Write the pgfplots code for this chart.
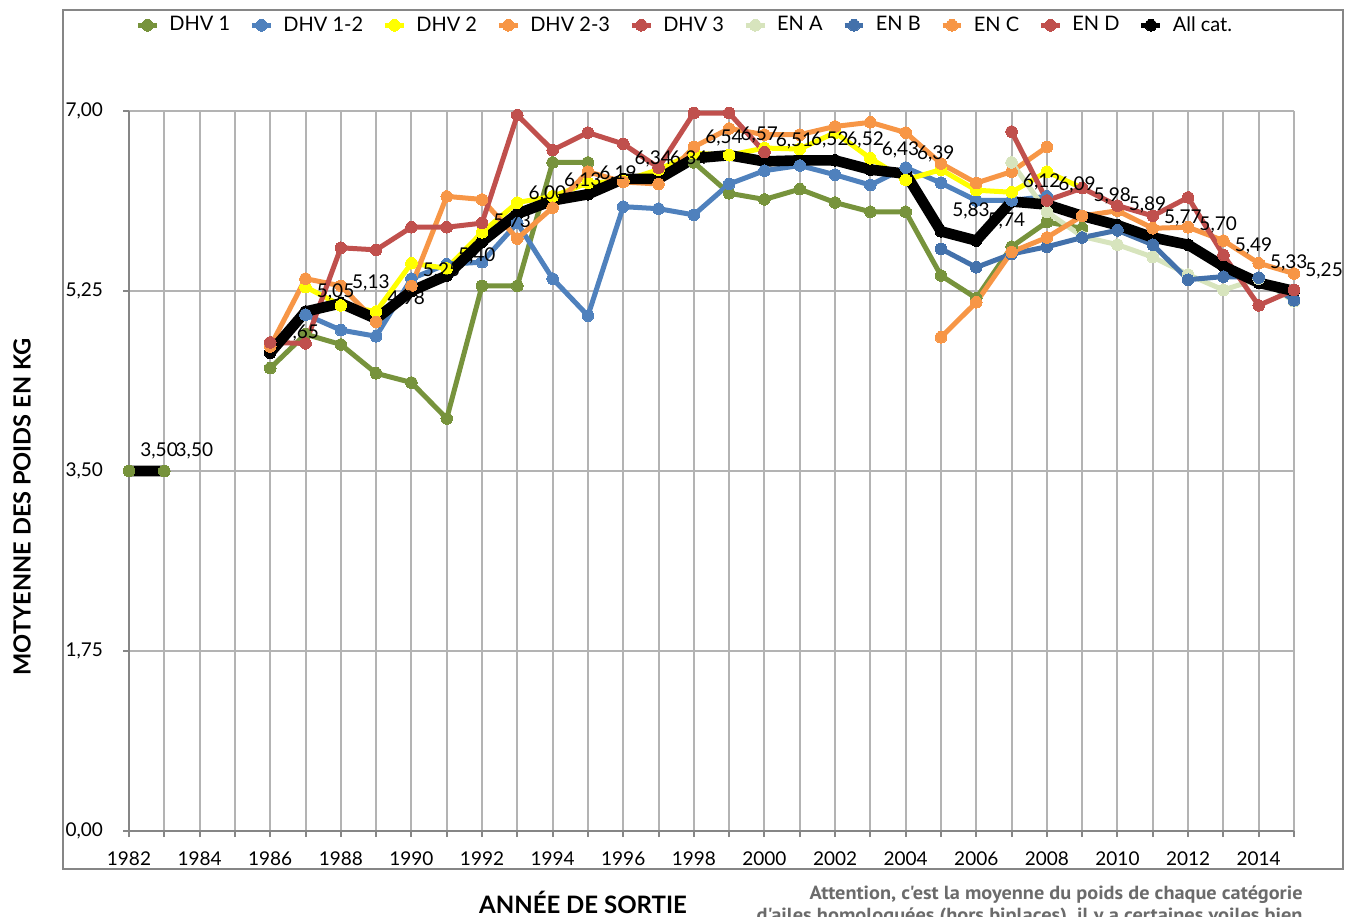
\documentclass[border=0pt]{standalone}
\usepackage{fontspec}
\setmainfont{Lato}
\newfontfamily\notefont{PT Sans}
\usepackage{graphicx}
\usepackage{pgfplots}
\pgfplotsset{compat=1.18}
\usepackage{pgfplotstable}

\definecolor{cg}{HTML}{77933C}
\definecolor{cb}{HTML}{4F81BD}
\definecolor{cy}{HTML}{FFFF00}
\definecolor{co}{HTML}{F79646}
\definecolor{cr}{HTML}{C0504D}
\definecolor{clg}{HTML}{D7E4BD}
\definecolor{cdb}{HTML}{4371AB}
\definecolor{gridgray}{HTML}{B3B3B3}
\definecolor{axisgray}{HTML}{868686}
\definecolor{notegray}{HTML}{6B6B6B}

\pgfplotstableread{
x y
1982 3.50
1983 3.50
1984 nan
1985 nan
1986 4.50
1987 4.83
1988 4.73
1989 4.45
1990 4.36
1991 4.01
1992 5.30
1993 5.30
1994 6.50
1995 6.50
1996 nan
1997 nan
1998 6.50
1999 6.20
2000 6.14
2001 6.24
2002 6.11
2003 6.02
2004 6.02
2005 5.40
2006 5.18
2007 5.68
2008 5.92
2009 5.86
}\tdhvone

\pgfplotstableread{
x y
1987 5.02
1988 4.87
1989 4.81
1990 5.37
1991 5.51
1992 5.53
1993 5.91
1994 5.37
1995 5.01
1996 6.07
1997 6.05
1998 5.99
1999 6.29
2000 6.42
2001 6.47
2002 6.38
2003 6.28
2004 6.45
2005 6.30
2006 6.13
2007 6.13
2008 6.17
}\tdhvonetwo

\pgfplotstableread{
x y
1987 5.29
1988 5.11
1989 5.05
1990 5.52
1991 5.47
1992 5.82
1993 6.11
1994 6.17
1995 6.30
1996 6.32
1997 6.43
1998 6.59
1999 6.57
2000 6.64
2001 6.63
2002 6.79
2003 6.54
2004 6.33
2005 6.43
2006 6.23
2007 6.21
2008 6.41
2009 6.25
}\tdhvtwo

\pgfplotstableread{
x y
1986 4.71
1987 5.37
1988 5.30
1989 4.95
1990 5.30
1991 6.17
1992 6.14
1993 5.76
1994 6.06
1995 6.41
1996 6.31
1997 6.29
1998 6.65
1999 6.83
2000 6.77
2001 6.77
2002 6.85
2003 6.89
2004 6.79
2005 6.49
2006 6.30
2007 6.41
2008 6.65
}\tdhvtwothree

\pgfplotstableread{
x y
1986 4.75
1987 4.74
1988 5.67
1989 5.65
1990 5.87
1991 5.87
1992 5.91
1993 6.96
1994 6.62
1995 6.79
1996 6.68
1997 6.45
1998 6.98
1999 6.98
2000 6.60
}\tdhvthree

\pgfplotstableread{
x y
2007 6.50
2008 6.02
2009 5.78
2010 5.70
2011 5.58
2012 5.41
2013 5.26
2014 5.37
2015 5.15
}\tena

\pgfplotstableread{
x y
2005 5.66
2006 5.48
2007 5.61
2008 5.68
2009 5.77
2010 5.84
2011 5.70
2012 5.36
2013 5.39
2014 5.38
2015 5.16
}\tenb

\pgfplotstableread{
x y
2005 4.80
2006 5.14
2007 5.63
2008 5.77
2009 5.98
2010 6.03
2011 5.86
2012 5.87
2013 5.74
2014 5.52
2015 5.42
}\tenc

\pgfplotstableread{
x y
2007 6.80
2008 6.13
2009 6.25
2010 6.08
2011 5.98
2012 6.16
2013 5.60
2014 5.11
2015 5.26
}\tend

\pgfplotstableread{
x y
1982 3.50
1983 3.50
1984 nan
1985 nan
1986 4.65
1987 5.05
1988 5.13
1989 4.98
1990 5.25
1991 5.40
1992 5.73
1993 6.00
1994 6.13
1995 6.19
1996 6.34
1997 6.34
1998 6.54
1999 6.57
2000 6.51
2001 6.52
2002 6.52
2003 6.43
2004 6.39
2005 5.83
2006 5.74
2007 6.12
2008 6.09
2009 5.98
2010 5.89
2011 5.77
2012 5.70
2013 5.49
2014 5.33
2015 5.25
}\tallcat

\pgfplotsset{
  ln/.style={color=#1, line width=2.5pt, line join=round, line cap=round, no markers, forget plot},
  mk/.style={color=#1, only marks, mark=*, mark size=2.9pt, mark options={solid, fill=#1, draw=#1, line width=0pt}, forget plot},
  lg/.style={color=#1, line width=2.5pt, mark=*, mark size=2.9pt, mark options={solid, fill=#1, draw=#1, line width=0pt}},
}

\begin{document}
\begin{tikzpicture}
\useasboundingbox (0,0) rectangle (677pt,458pt);
\draw[axisgray, line width=0.7pt] (31.5pt,23.5pt) rectangle (671.5pt,453pt);
\begin{axis}[
  at={(64.5pt,42.5pt)}, anchor=south west,
  scale only axis, width=582.5pt, height=360pt,
  xmin=1982, xmax=2015, ymin=0, ymax=7,
  clip=false,
  axis x line*=bottom, axis y line*=left,
  axis line style={-, draw=axisgray, line width=1pt},
  xtick={1982,1984,...,2014},
  minor xtick={1983,1985,...,2015},
  ytick={0,1.75,3.5,5.25,7},
  xmajorgrids, xminorgrids, ymajorgrids,
  major grid style={draw=gridgray, line width=1pt},
  minor grid style={draw=gridgray, line width=1pt},
  tick align=outside,
  major tick length=3pt, minor tick length=3pt,
  every tick/.style={draw=axisgray, line width=1pt},
  minor tick style={draw=axisgray, line width=1pt},
  x tick label style={yshift=-4pt, /pgf/number format/1000 sep={}},
  y tick label style={xshift=-6.5pt, /pgf/number format/.cd, use comma, fixed, fixed zerofill, precision=2},
  /pgf/number format/assume math mode=true,
  tick label style={font=\fontsize{9.5}{11}\selectfont, text=black},
  unbounded coords=jump,
  legend columns=10,
  legend style={at={(0.478,1.119)}, anchor=center, draw=none, fill=none,
    font=\fontsize{10}{12}\selectfont,
    /tikz/every odd column/.append style={column sep=3pt},
    /tikz/every even column/.append style={column sep=7.7pt}},
  legend image code/.code={\draw[mark repeat=2,mark phase=2,#1] plot coordinates {(0pt,0pt) (4.7pt,0pt) (9.4pt,0pt)};},
]
% lines
\addplot[ln=cg] table {\tdhvone};
\addplot[ln=cb] table {\tdhvonetwo};
\addplot[ln=cy] table {\tdhvtwo};
\addplot[ln=co] table {\tdhvtwothree};
\addplot[ln=cr] table {\tdhvthree};
\addplot[ln=clg] table {\tena};
\addplot[ln=cdb] table {\tenb};
\addplot[ln=co] table {\tenc};
\addplot[ln=cr] table {\tend};
\addplot[ln=black, line width=5.3pt] table {\tallcat};
% markers
\addplot[mk=black] table {\tallcat};
\addplot[mk=cg] table {\tdhvone};
\addplot[mk=cb] table {\tdhvonetwo};
\addplot[mk=cy] table {\tdhvtwo};
\addplot[mk=co] table {\tdhvtwothree};
\addplot[mk=cr] table {\tdhvthree};
\addplot[mk=clg] table {\tena};
\addplot[mk=cdb] table {\tenb};
\addplot[mk=co] table {\tenc};
\addplot[mk=cr] table {\tend};
% labels
\addplot[draw=none, no markers, forget plot,
  nodes near coords={\pgfmathprintnumber[fixed,fixed zerofill,precision=2,use comma]{\pgfplotspointmeta}},
  every node near coord/.append style={anchor=west, inner sep=0pt, xshift=5.5pt, yshift=10pt,
    font=\fontsize{9.5}{11}\selectfont, text=black}] table {\tallcat};
% legend
\addlegendimage{lg=cg}\addlegendentry{DHV 1}
\addlegendimage{lg=cb}\addlegendentry{DHV 1-2}
\addlegendimage{lg=cy}\addlegendentry{DHV 2}
\addlegendimage{lg=co}\addlegendentry{DHV 2-3}
\addlegendimage{lg=cr}\addlegendentry{DHV 3}
\addlegendimage{lg=clg}\addlegendentry{EN A}
\addlegendimage{lg=cdb}\addlegendentry{EN B}
\addlegendimage{lg=co}\addlegendentry{EN C}
\addlegendimage{lg=cr}\addlegendentry{EN D}
\addlegendimage{lg=black}\addlegendentry{All cat.}
\end{axis}
\node[rotate=90, font=\bfseries\fontsize{11.8}{14}\selectfont] at (11pt,204.5pt) {MOTYENNE DES POIDS EN KG};
\node[font=\bfseries\fontsize{12}{14}\selectfont, anchor=base] at (291.5pt,1.5pt) {ANNÉE DE SORTIE};
\node[anchor=base east, inner sep=0pt, text=notegray, font=\notefont\bfseries\fontsize{9.5}{11}\selectfont] at (651.5pt,8.5pt) {\resizebox{246.5pt}{\height}{Attention, c'est la moyenne du poids de chaque catégorie}};
\node[anchor=base east, inner sep=0pt, text=notegray, font=\notefont\bfseries\fontsize{9.5}{11}\selectfont] at (651.5pt,-2.5pt) {\resizebox{273pt}{\height}{d'ailes homologuées (hors biplaces), il y a certaines voiles bien}};
\end{tikzpicture}
\end{document}
